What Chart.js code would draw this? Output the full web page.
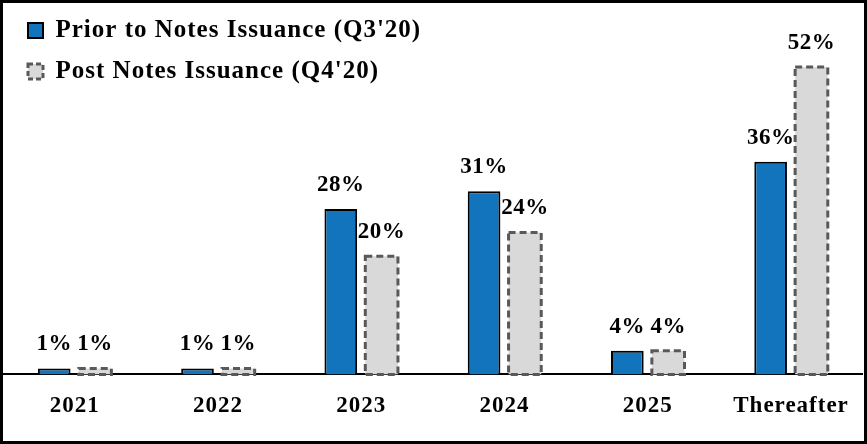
<!DOCTYPE html>
<html>
<head>
<meta charset="utf-8">
<script src="https://cdn.jsdelivr.net/npm/chart.js@4.4.1/dist/chart.umd.min.js"></script>
<style>
  html, body { margin: 0; padding: 0; background: #fff; overflow: hidden; }
  #wrap { position: relative; width: 867px; height: 444px; }
  #frame { position: absolute; left: 0; top: 0; width: 867px; height: 444px; box-sizing: border-box; border: 3px solid #000; pointer-events: none; }
</style>
</head>
<body>
<div id="wrap">
  <canvas id="maturityChart" width="867" height="444"></canvas>
  <div id="frame"></div>
</div>
<script>
// ===== DEBT MATURITY PROFILE =====
const categories = ['2021', '2022', '2023', '2024', '2025', 'Thereafter'];
const priorValues = [1, 1, 28, 31, 4, 36];
const postValues = [1, 1, 20, 24, 4, 52];
const seriesNames = ["Prior to Notes Issuance (Q3'20)", "Post Notes Issuance (Q4'20)"];

const SERIF = "'Liberation Serif', 'Times New Roman', serif";

// Garamond-ish wide spacing
const spacing = {
  id: 'spacing',
  beforeUpdate(chart) { chart.ctx.letterSpacing = '1px'; },
  beforeDraw(chart) { chart.ctx.letterSpacing = '1px'; }
};

// put the legend where the original has it
const legendSpot = {
  id: 'legendSpot',
  afterLayout(chart) {
    chart.legend.left = 12;
    chart.legend.top = 2;
  }
};

// dashed outline for the post issuance bars + value labels
const barExtras = {
  id: 'barExtras',
  afterDatasetsDraw(chart) {
    const ctx = chart.ctx;
    const post = chart.getDatasetMeta(1);
    ctx.save();
    ctx.strokeStyle = '#595959';
    ctx.lineWidth = 3;
    ctx.setLineDash([7, 4]);
    post.data.forEach(bar => {
      const w = bar.width;
      ctx.strokeRect(bar.x - w / 2, bar.y, w, bar.base - bar.y);
    });
    ctx.restore();

    ctx.save();
    ctx.letterSpacing = '0.5px';
    ctx.font = 'bold 23px ' + SERIF;
    ctx.fillStyle = '#000';
    ctx.textAlign = 'center';
    ctx.textBaseline = 'middle';
    chart.data.datasets.forEach((ds, i) => {
      chart.getDatasetMeta(i).data.forEach((bar, j) => {
        ctx.fillText(ds.data[j] + '%', bar.x, bar.y - 24);
      });
    });
    ctx.restore();
  }
};

new Chart(document.getElementById('maturityChart'), {
  type: 'bar',
  data: {
    labels: categories,
    datasets: [
      {
        label: seriesNames[0],
        data: priorValues,
        backgroundColor: '#1174bc',
        borderColor: '#000000',
        borderWidth: 2,
        categoryPercentage: 0.57,
        barPercentage: 0.8
      },
      {
        label: seriesNames[1],
        data: postValues,
        backgroundColor: '#d9d9d9',
        borderColor: '#595959',
        borderWidth: 0,
        categoryPercentage: 0.57,
        barPercentage: 0.8
      }
    ]
  },
  options: {
    responsive: false,
    animation: false,
    layout: { padding: { left: 3, right: 2, top: 5, bottom: 6 } },
    plugins: {
      tooltip: { enabled: false },
      legend: {
        position: 'chartArea',
        align: 'start',
        labels: {
          boxWidth: 15,
          boxHeight: 15,
          padding: 16,
          color: '#000',
          font: { family: SERIF, size: 25, weight: 'bold' },
          generateLabels(chart) {
            const items = Chart.defaults.plugins.legend.labels.generateLabels(chart);
            items[0].lineWidth = 2;
            items[0].strokeStyle = '#000';
            items[1].lineWidth = 3;
            items[1].strokeStyle = '#595959';
            items[1].lineDash = [5, 3];
            return items;
          }
        }
      }
    },
    scales: {
      x: {
        grid: { display: false, drawTicks: false },
        border: { display: true, color: '#000', width: 2 },
        ticks: { color: '#000', padding: 18, font: { family: SERIF, size: 23, weight: 'bold' } }
      },
      y: {
        display: false,
        min: 0, max: 62.5
      }
    }
  },
  plugins: [spacing, legendSpot, barExtras]
});
</script>
</body>
</html>
